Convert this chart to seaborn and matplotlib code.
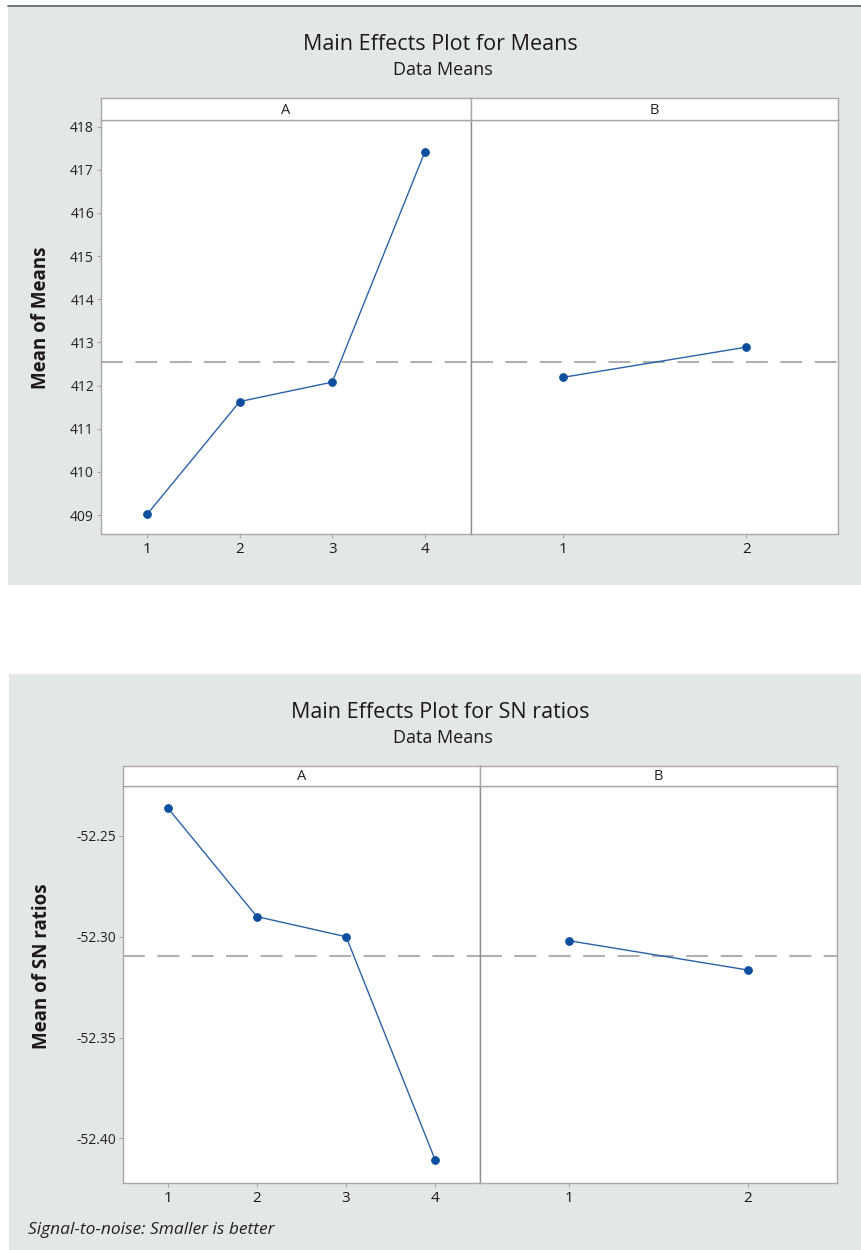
import matplotlib
matplotlib.use("Agg")
import matplotlib.pyplot as plt
import seaborn as sns
import numpy as np
import pandas as pd
from matplotlib.patches import Rectangle
from matplotlib.lines import Line2D
from matplotlib.ticker import FixedLocator, FuncFormatter

# ---------------- data ----------------
factor_names = ["A", "B"]
levels_A = [1, 2, 3, 4]
levels_B = [1, 2]

means_A = [409.02, 411.63, 412.08, 417.41]
means_B = [412.19, 412.89]
means_grand = 412.54
means_yticks = [409, 410, 411, 412, 413, 414, 415, 416, 417, 418]

sn_A = [-52.236, -52.290, -52.300, -52.411]
sn_B = [-52.302, -52.3165]
sn_grand = -52.3095
sn_yticks = [-52.40, -52.35, -52.30, -52.25]

title_means = "Main Effects Plot for Means"
title_sn = "Main Effects Plot for SN ratios"
subtitle = "Data Means"
ylabel_means = "Mean of Means"
ylabel_sn = "Mean of SN ratios"
footnote = "Signal-to-noise: Smaller is better"

# ---------------- style ----------------
sns.set_theme(style="white")
FONT = ["Open Sans", "DejaVu Sans"]
plt.rcParams["font.family"] = FONT

W, H = 861, 1250
BG = "#e4e7e7"
LINE_C = "#2a62a8"
MARK_C = "#0d4f9e"
SPINE_C = "#a8a8a8"
DIV_C = "#8f8f8f"
REF_C = "#b0b0b0"

fig = plt.figure(figsize=(W / 100, H / 100), dpi=100)
fig.patch.set_facecolor("white")


def box(x0, y0, x1, y1):
    return [x0 / W, 1 - y1 / H, (x1 - x0) / W, (y1 - y0) / H]


def fx(x):
    return x / W


def fy(y):
    return 1 - y / H


# gray panel backgrounds
fig.patches.append(Rectangle((fx(8), fy(585)), (W - 8) / W, (585 - 5) / H,
                             transform=fig.transFigure, facecolor=BG,
                             edgecolor="none", zorder=-2))
fig.lines.append(Line2D([fx(8), 1], [fy(5.5), fy(5.5)], transform=fig.transFigure,
                        color="#6a6a6a", lw=1.3, zorder=-1))
fig.patches.append(Rectangle((fx(9), 0), (W - 9) / W, (1250 - 674) / H,
                             transform=fig.transFigure, facecolor=BG,
                             edgecolor="none", zorder=-2))


def panel(strip_top, plot_top, plot_bot, xl, xd, xr, A_vals, B_vals, grand,
          ylim, yticks, yfmt, title, title_y, ylabel, ylabel_xy):
    axA = fig.add_axes(box(xl, plot_top, xd, plot_bot))
    axB = fig.add_axes(box(xd, plot_top, xr, plot_bot), sharey=axA)
    for ax, lv, vals, name in ((axA, levels_A, A_vals, factor_names[0]),
                               (axB, levels_B, B_vals, factor_names[1])):
        df = pd.DataFrame({"level": lv, "value": vals})
        ax.set_facecolor("white")
        ax.axhline(grand, color=REF_C, lw=1.5, ls=(0, (10.5, 6)), zorder=1)
        sns.lineplot(data=df, x="level", y="value", ax=ax, color=LINE_C,
                     lw=1.0, marker="o", markersize=5.5,
                     markerfacecolor=MARK_C, markeredgecolor=MARK_C,
                     zorder=3)
        ax.set_xlim(0.5, len(lv) + 0.5)
        ax.set_xticks(lv)
        ax.set_xticklabels([str(v) for v in lv])
        ax.set_xlabel("")
        ax.set_ylabel("")
        for s in ax.spines.values():
            s.set_color(SPINE_C)
            s.set_linewidth(1.0)
        ax.tick_params(axis="x", direction="out", length=3, width=0.8,
                       color=SPINE_C, labelsize=11, pad=3,
                       labelcolor="#1a1a1a", bottom=True)
    axA.spines["right"].set_color(DIV_C)
    axB.spines["left"].set_color(DIV_C)
    axA.set_ylim(*ylim)
    axA.yaxis.set_major_locator(FixedLocator(yticks))
    axA.yaxis.set_major_formatter(FuncFormatter(yfmt))
    axA.tick_params(axis="y", direction="out", length=3, width=0.8,
                    color=SPINE_C, labelsize=10, pad=2, labelcolor="#222222",
                    left=True)
    axB.tick_params(axis="y", left=False, labelleft=False)
    # strips
    for x0, x1, name in ((xl, xd, factor_names[0]), (xd, xr, factor_names[1])):
        sa = fig.add_axes(box(x0, strip_top, x1, plot_top))
        sa.set_facecolor("white")
        sa.set_xticks([])
        sa.set_yticks([])
        for s in sa.spines.values():
            s.set_color(SPINE_C)
            s.set_linewidth(1.0)
        sa.text(0.5, 0.45, name, ha="center", va="center", fontsize=10.5,
                color="#222222", transform=sa.transAxes)
    fig.text(fx(440), fy(title_y), title, ha="center", va="center",
             fontsize=15.5, color="#1a1a1a")
    fig.text(fx(443), fy(title_y + 25), subtitle, ha="center", va="center",
             fontsize=13, color="#1a1a1a")
    fig.text(fx(ylabel_xy[0]), fy(ylabel_xy[1]), ylabel, rotation=90,
             ha="center", va="center", fontsize=13.5, fontweight="bold",
             color="#1a1a1a")
    return axA, axB


panel(98, 120, 534, 101, 471, 838, means_A, means_B, means_grand,
      (408.56, 418.155), means_yticks, lambda v, p: f"{v:.0f}",
      title_means, 45, ylabel_means, (41, 318))

panel(766, 786, 1183, 123, 480, 837, sn_A, sn_B, sn_grand,
      (-52.4222, -52.2252), sn_yticks, lambda v, p: f"{v:.2f}",
      title_sn, 713, ylabel_sn, (42, 966))

fig.text(fx(28), fy(1230), footnote, ha="left", va="center", fontsize=12.5,
         style="italic", color="#222222")

fig.savefig("out.png", dpi=100, facecolor=fig.get_facecolor())
